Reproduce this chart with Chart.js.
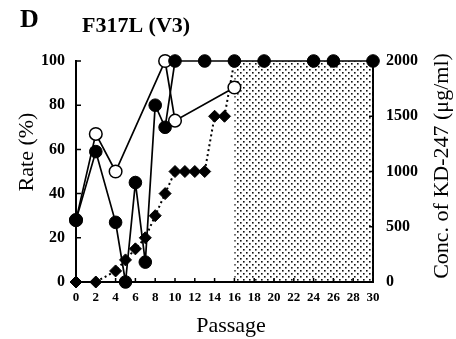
<!DOCTYPE html>
<html>
<head>
<title>F317L (V3)</title>
<style>
  body { margin: 0; background: #fff; }
  canvas { display: block; }
</style>
</head>
<body>
<canvas id="chart" width="456" height="339"></canvas>
<script src="https://cdn.jsdelivr.net/npm/chart.js"></script>
<script>
// values
const solidPassage = [0, 2, 4, 5, 6, 7, 8, 9, 10, 13, 16, 19, 24, 26, 30];
const solidRate = [28, 59, 27, 0, 45, 9, 80, 70, 100, 100, 100, 100, 100, 100, 100];
const openPassage = [0, 2, 4, 9, 10, 16];
const openRate = [28, 67, 50, 100, 73, 88];
const concPassage = [0, 2, 4, 5, 6, 7, 8, 9, 10, 11, 12, 13, 14, 15, 16];
const concValues = [0, 0, 100, 200, 300, 400, 600, 800, 1000, 1000, 1000, 1000, 1500, 1500, 2000];
const shadedPassage = [16, 30];
const passageTicks = [0, 2, 4, 6, 8, 10, 12, 14, 16, 18, 20, 22, 24, 26, 28, 30];
const rateTicks = [0, 20, 40, 60, 80, 100];
const concTicks = [0, 500, 1000, 1500, 2000];

const serif = '"Liberation Serif", "DejaVu Serif", serif';
const points = (xs, ys) => xs.map((v, i) => ({ x: v, y: ys[i] }));
const setTicks = list => scale => { scale.ticks = list.map(v => ({ value: v })); };

// dotted area, inward ticks and the free texts
const figureDecor = {
    id: 'figureDecor',
    beforeDatasetsDraw(chart) {
        const { ctx, scales: { x, y } } = chart;
        const tile = document.createElement('canvas');
        tile.width = 6;
        tile.height = 6;
        const t = tile.getContext('2d');
        t.fillStyle = '#111';
        t.fillRect(0, 0, 1.6, 1.6);
        t.fillRect(3, 3, 1.6, 1.6);
        const x0 = x.getPixelForValue(shadedPassage[0]);
        const x1 = x.getPixelForValue(shadedPassage[1]);
        const yTop = y.getPixelForValue(100);
        const yBot = y.getPixelForValue(0);
        ctx.save();
        ctx.fillStyle = ctx.createPattern(tile, 'repeat');
        ctx.fillRect(x0, yTop, x1 - x0, yBot - yTop);
        ctx.restore();
    },
    afterDraw(chart) {
        const { ctx, scales: { x, y, y2 } } = chart;
        ctx.save();
        ctx.strokeStyle = '#000';
        ctx.lineWidth = 1.5;
        ctx.beginPath();
        x.ticks.forEach(t => {
            const px = x.getPixelForValue(t.value);
            ctx.moveTo(px, x.top);
            ctx.lineTo(px, x.top - 4);
        });
        y.ticks.forEach(t => {
            const py = y.getPixelForValue(t.value);
            ctx.moveTo(y.right, py);
            ctx.lineTo(y.right + 5, py);
        });
        y2.ticks.forEach(t => {
            const py = y2.getPixelForValue(t.value);
            ctx.moveTo(y2.left, py);
            ctx.lineTo(y2.left - 4, py);
        });
        ctx.stroke();

        ctx.fillStyle = '#000';
        ctx.textBaseline = 'alphabetic';
        ctx.textAlign = 'left';
        ctx.font = 'bold 26px ' + serif;
        ctx.fillText('D', 20, 27);
        ctx.font = 'bold 22px ' + serif;
        ctx.fillText('F317L (V3)', 82, 32);

        ctx.font = '22px ' + serif;
        ctx.textAlign = 'center';
        ctx.fillText('Passage', 231, 332);

        ctx.save();
        ctx.translate(33, 152);
        ctx.rotate(-Math.PI / 2);
        ctx.fillText('Rate (%)', 0, 0);
        ctx.restore();

        ctx.save();
        ctx.translate(448, 166);
        ctx.rotate(-Math.PI / 2);
        ctx.fillText('Conc. of KD-247 (\u03bcg/ml)', 0, 0);
        ctx.restore();
        ctx.restore();
    }
};

new Chart(document.getElementById('chart'), {
    type: 'line',
    data: {
        datasets: [
            {
                data: points(solidPassage, solidRate),
                yAxisID: 'y',
                borderColor: '#000',
                borderWidth: 1.7,
                pointStyle: 'circle',
                pointRadius: 6.3,
                pointBackgroundColor: '#000',
                pointBorderColor: '#000',
                pointBorderWidth: 1,
                clip: false
            },
            {
                data: points(openPassage, openRate),
                yAxisID: 'y',
                borderColor: '#000',
                borderWidth: 1.7,
                pointStyle: 'circle',
                pointRadius: 6.3,
                pointBackgroundColor: '#fff',
                pointBorderColor: '#000',
                pointBorderWidth: 1.5,
                clip: false
            },
            {
                data: points(concPassage, concValues),
                yAxisID: 'y2',
                borderColor: '#000',
                borderWidth: 2,
                borderDash: [2, 3],
                pointStyle: 'rectRot',
                pointRadius: 6,
                pointBackgroundColor: '#000',
                pointBorderColor: '#000',
                pointBorderWidth: 1,
                clip: false
            }
        ]
    },
    options: {
        responsive: false,
        animation: false,
        events: [],
        layout: { padding: { top: 61, left: 0, right: 0, bottom: 0 } },
        elements: { line: { tension: 0 } },
        plugins: { legend: { display: false }, tooltip: { enabled: false } },
        scales: {
            x: {
                type: 'linear',
                min: 0,
                max: 30,
                afterBuildTicks: setTicks(passageTicks),
                afterFit: s => { s.height = 57; },
                ticks: { color: '#000', font: { family: serif, size: 13, weight: 'bold' }, padding: 8, maxRotation: 0, autoSkip: false, callback: v => String(v) },
                grid: { display: true, drawOnChartArea: false, drawTicks: false },
                border: { display: true, color: '#000', width: 2 }
            },
            y: {
                position: 'left',
                min: 0,
                max: 100,
                afterBuildTicks: setTicks(rateTicks),
                afterFit: s => { s.width = 76; },
                ticks: { color: '#000', font: { family: serif, size: 16, weight: 'bold' }, padding: 11, callback: v => String(v) },
                grid: { display: true, drawOnChartArea: false, drawTicks: false },
                border: { display: true, color: '#000', width: 2 }
            },
            y2: {
                position: 'right',
                min: 0,
                max: 2000,
                afterBuildTicks: setTicks(concTicks),
                afterFit: s => { s.width = 83; },
                ticks: { color: '#000', font: { family: serif, size: 16, weight: 'bold' }, padding: 13, callback: v => String(v) },
                grid: { display: true, drawOnChartArea: false, drawTicks: false },
                border: { display: true, color: '#000', width: 2 }
            }
        }
    },
    plugins: [figureDecor]
});
</script>
</body>
</html>
